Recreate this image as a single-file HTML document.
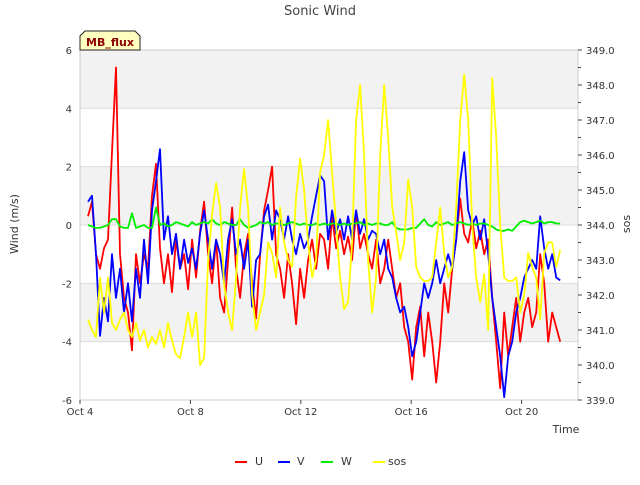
<!DOCTYPE html>
<html><head><meta charset="utf-8"><style>
body{margin:0;background:#fff;font-family:"Liberation Sans","DejaVu Sans",sans-serif}
svg text{font-family:"DejaVu Sans","Liberation Sans",sans-serif}
</style></head><body>
<svg id="c" width="640" height="480" xmlns="http://www.w3.org/2000/svg"></svg>
<script>
const uValues=[0.3,0.8,-1.0,-1.5,-0.8,-0.5,2.5,5.4,-1.0,-2.5,-3.0,-4.3,-1.0,-2.0,-1.0,-1.5,1.0,2.1,-0.8,-2.0,-1.0,-2.3,-0.5,-1.5,-1.0,-2.2,-0.5,-1.8,-0.2,0.8,-1.0,-2.0,-0.5,-2.5,-3.0,-1.2,0.6,-1.5,-2.5,-1.0,-0.3,-2.0,-3.2,-1.0,0.5,1.2,2.0,-1.0,-1.5,-2.5,-1.0,-2.0,-3.4,-1.5,-2.5,-1.2,-0.5,-1.5,-0.3,-0.5,-1.5,0.3,-0.8,-0.2,-1.0,-0.4,-1.2,0.5,-0.8,-0.3,-1.0,-1.5,-0.5,-2.0,-1.5,-0.5,-1.5,-2.5,-2.0,-3.5,-4.0,-5.3,-3.5,-2.8,-4.5,-3.0,-4.0,-5.4,-4.0,-2.0,-3.0,-1.5,-0.5,0.9,-0.3,-0.6,0.2,-0.8,-0.2,-1.0,-0.5,-2.5,-4.0,-5.6,-3.0,-4.5,-3.5,-2.5,-4.0,-3.0,-2.5,-3.5,-3.0,-1.0,-2.0,-4.0,-3.0,-3.5,-4.0];
const vValues=[0.8,1.0,-1.0,-3.8,-2.5,-3.3,-1.0,-2.5,-1.5,-3.0,-2.0,-3.3,-1.5,-2.5,-0.5,-2.0,0.5,1.5,2.6,-0.5,0.3,-1.0,-0.3,-1.5,-0.5,-1.3,-0.8,-1.5,-0.3,0.5,-0.5,-1.5,-0.5,-1.0,-2.0,-0.5,0.2,-1.0,-0.5,-1.5,-0.5,-2.8,-1.2,-1.0,0.3,0.7,-0.5,0.5,0.2,-0.5,0.3,-0.5,-1.0,-0.3,-0.8,-0.5,0.3,1.0,1.7,1.5,-0.5,0.5,-0.3,0.2,-0.5,0.3,-0.5,0.5,-0.3,0.2,-0.5,-0.2,-0.3,-1.0,-0.5,-1.5,-1.8,-2.5,-3.0,-2.8,-3.5,-4.5,-4.0,-3.0,-2.0,-2.5,-2.0,-1.2,-2.0,-1.5,-1.0,-1.5,-0.5,1.5,2.5,0.5,0.0,0.3,-0.5,0.2,-1.0,-2.5,-3.5,-4.5,-5.9,-4.5,-4.0,-3.0,-2.5,-1.8,-1.5,-1.2,-1.5,0.3,-0.8,-1.5,-1.0,-1.8,-1.9];
const wValues=[0.0,-0.05,-0.1,-0.1,-0.05,0.0,0.2,0.2,-0.05,-0.1,-0.1,0.4,-0.1,-0.05,0.0,-0.1,-0.1,0.6,0.0,0.05,-0.05,0.0,0.1,0.05,0.0,-0.05,0.1,0.0,0.05,0.1,0.05,0.2,0.05,0.0,0.1,0.05,0.0,0.0,0.2,0.0,-0.1,-0.05,0.0,0.1,0.05,0.1,0.0,0.05,0.05,0.0,0.05,0.1,0.05,0.0,0.05,0.0,0.0,0.05,0.0,0.05,0.0,0.05,0.05,0.0,0.05,0.0,0.05,0.05,0.1,0.0,0.05,0.0,0.05,0.05,0.0,0.0,0.1,-0.1,-0.15,-0.15,-0.15,-0.1,-0.1,0.05,0.2,0.0,-0.05,0.1,0.0,0.05,0.1,0.0,0.05,0.1,0.05,0.0,0.05,0.0,0.05,0.05,0.0,-0.05,-0.15,-0.2,-0.2,-0.15,-0.2,-0.05,0.1,0.15,0.1,0.05,0.1,0.15,0.05,0.1,0.1,0.05,0.05];
const sosValues=[341.3,341.0,340.8,342.5,341.5,342.5,341.2,341.0,341.3,341.5,341.0,340.8,341.2,340.7,341.0,340.5,340.8,340.6,341.0,340.5,341.2,340.7,340.3,340.2,340.8,341.5,340.8,341.5,340.0,340.2,343.0,344.3,345.2,344.5,342.3,341.5,341.0,342.5,344.5,345.6,344.5,342.0,341.0,341.5,342.0,343.5,343.2,342.5,344.5,343.5,343.0,342.8,344.8,345.9,345.0,343.5,342.5,343.0,345.5,346.0,347.0,345.5,344.0,342.5,341.6,341.8,343.5,347.0,348.0,346.0,343.0,341.5,342.5,346.0,348.0,346.5,344.5,343.8,343.0,343.5,345.3,344.5,342.8,342.5,342.4,342.4,342.5,343.5,344.5,343.2,342.5,342.8,344.5,347.0,348.3,347.0,344.0,342.5,341.8,342.6,341.0,348.2,346.5,344.0,342.5,342.4,342.4,342.5,341.5,342.0,343.2,342.8,342.5,341.3,343.2,343.5,343.5,342.8,343.3];
const timeStart=4.29, timeStep=0.145; // days (Oct)
const xTickDays=[4,8,12,16,20];
const xTickLabels=["Oct 4","Oct 8","Oct 12","Oct 16","Oct 20"];
const leftTicks=[-6,-4,-2,0,2,4,6];
const rightTicks=[339,340,341,342,343,344,345,346,347,348,349];

const L=80,R=578,T=50,B=400;
const xs=d=>L+(d-4)*27.6;
const yl=v=>B-(v+6)/12*(B-T);
const yr=v=>B-(v-339)/10*(B-T);
const NS="http://www.w3.org/2000/svg";
const svg=document.getElementById('c');
function mk(tag,attrs,parent){const e=document.createElementNS(NS,tag);for(const k in attrs)e.setAttribute(k,attrs[k]);(parent||svg).appendChild(e);return e;}

// bands
for(let v=-6;v<6;v+=2){
 const r=mk('rect',{x:L,y:yl(v+2),width:R-L,height:yl(v)-yl(v+2),fill:(((v+6)/2)%2===1)?'#f2f2f2':'#ffffff'});
 
 
}
leftTicks.forEach(v=>{
 const g=mk('line',{x1:L,x2:R,y1:yl(v),y2:yl(v),stroke:'#dcdcdc','stroke-width':1});
 
 
 const t=mk('text',{x:72,y:yl(v)+4,'text-anchor':'end','font-size':10,fill:'#333'});
 t.textContent=v;
 
 
});
const frame=mk('rect',{x:L,y:T,width:R-L,height:B-T,fill:'none',stroke:'#cccccc'});


rightTicks.forEach(v=>{
 const t=mk('text',{x:586,y:yr(v)+4,'font-size':10,fill:'#333'});
 t.textContent=v.toFixed(1);
 
 
 mk('line',{x1:R,x2:R+4,y1:yr(v),y2:yr(v),stroke:'#444'});
 if(v<349){mk('line',{x1:R,x2:R+3,y1:yr(v+0.5),y2:yr(v+0.5),stroke:'#444'});}
});
xTickDays.forEach((d,i)=>{
 mk('line',{x1:xs(d),x2:xs(d),y1:B,y2:B+4,stroke:'#444'});
 const t=mk('text',{x:xs(d),y:B+15,'text-anchor':'middle','font-size':10,fill:'#333'});
 t.textContent=xTickLabels[i];
 
 
});
function series(vals,yf,color,name){
 const pts=vals.map((v,i)=>xs(timeStart+i*timeStep).toFixed(1)+','+yf(v).toFixed(1)).join(' ');
 const p=mk('polyline',{points:pts,fill:'none',stroke:color,'stroke-width':1.8,'stroke-linejoin':'round'});
 
 
}
series(uValues,yl,'#ff0000','series-u');
series(vValues,yl,'#0000ff','series-v');
series(wValues,yl,'#00ee00','series-w');
series(sosValues,yr,'#ffff00','series-sos');
</script>
<svg width="640" height="480" style="position:absolute;left:0;top:0" xmlns="http://www.w3.org/2000/svg">
<text x="320" y="15" text-anchor="middle" font-size="13" fill="#444">Sonic Wind</text>
<text x="18" y="224" text-anchor="middle" font-size="11" fill="#333" transform="rotate(-90 18 224)">Wind (m/s)</text>
<text x="630" y="224" text-anchor="middle" font-size="11" fill="#333" transform="rotate(-90 630 224)">sos</text>
<text x="566" y="433" text-anchor="middle" font-size="11" fill="#333">Time</text>
<g>
<path d="M80,50 L80,36 L85,31 L135,31 L140,36 L140,50 Z" fill="#ffffc0" stroke="#222"/>
<text x="110" y="46" text-anchor="middle" font-size="11" font-weight="bold" fill="#8b0000">MB_flux</text>
</g>
<g>
<line x1="235" x2="247" y1="462" y2="462" stroke="#ff0000" stroke-width="2"/><text x="255" y="465" font-size="11" fill="#333">U</text>
<line x1="278" x2="290" y1="462" y2="462" stroke="#0000ff" stroke-width="2"/><text x="297" y="465" font-size="11" fill="#333">V</text>
<line x1="321" x2="333" y1="462" y2="462" stroke="#00ee00" stroke-width="2"/><text x="341" y="465" font-size="11" fill="#333">W</text>
<line x1="373" x2="385" y1="462" y2="462" stroke="#ffff00" stroke-width="2"/><text x="388" y="465" font-size="11" fill="#333">sos</text>
</g>
</svg>
</body></html>
